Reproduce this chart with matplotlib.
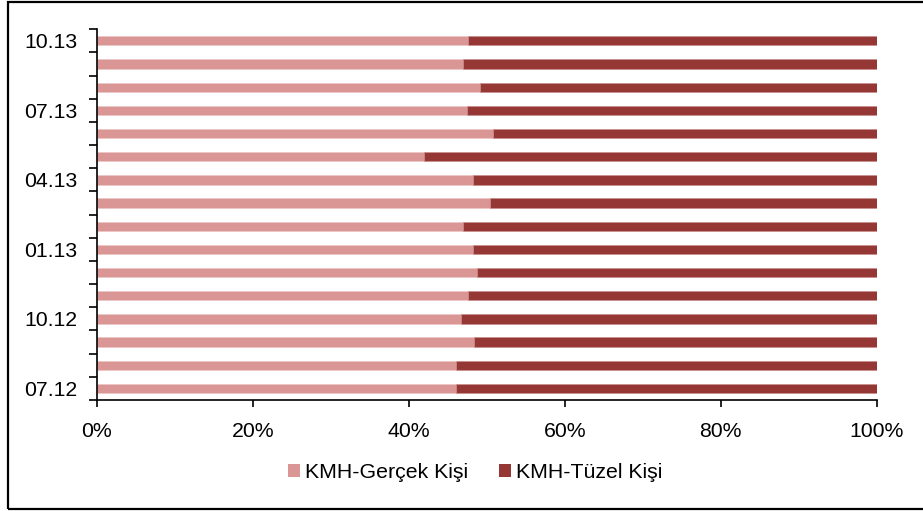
import numpy as np
import matplotlib.pyplot as plt
from matplotlib.patches import Rectangle, Patch

plt.rcParams['font.family'] = ['Liberation Sans', 'DejaVu Sans']

# monthly shares (%), 07.12 -> 10.13
months = ['07.12', '08.12', '09.12', '10.12', '11.12', '12.12', '01.13', '02.13',
          '03.13', '04.13', '05.13', '06.13', '07.13', '08.13', '09.13', '10.13']
gercek = [46.0, 46.0, 48.4, 46.7, 47.6, 48.7, 48.2, 47.0,
          50.4, 48.2, 42.0, 50.8, 47.5, 49.2, 46.9, 47.6]
tuzel = [100 - v for v in gercek]
labelled = ['07.12', '10.12', '01.13', '04.13', '07.13', '10.13']

c_gercek = '#D99694'
c_tuzel = '#953735'
fs = 15.3

fig = plt.figure(figsize=(9.23, 5.11), dpi=100)
ax = fig.add_axes([0.1048, 0.2172, 0.845, 0.7255])

y = np.arange(len(months))
ax.barh(y, gercek, height=0.4, color=c_gercek, edgecolor='#EBC5C4', linewidth=0.4)
ax.barh(y, tuzel, left=gercek, height=0.4, color=c_tuzel, edgecolor='#C98A88', linewidth=0.4)

ax.set_xlim(0, 100)
ax.set_ylim(-0.5, len(months) - 0.5)

ax.set_xticks(np.arange(0, 101, 20))
ax.set_xticklabels([f'{v}%' for v in range(0, 101, 20)])
ax.tick_params(axis='x', direction='out', length=5, width=1.2, pad=11, labelsize=fs)

# boundary ticks on the category axis, labels on every third month
ax.set_yticks(np.arange(-0.5, len(months), 1.0))
ax.set_yticklabels([])
ax.tick_params(axis='y', which='major', direction='out', length=6, width=1.2)
ax.set_yticks([months.index(m) for m in labelled], minor=True)
ax.set_yticklabels(labelled, minor=True)
ax.tick_params(axis='y', which='minor', length=0, pad=14, labelsize=fs)

for s in ['top', 'right']:
    ax.spines[s].set_visible(False)
for s in ['left', 'bottom']:
    ax.spines[s].set_linewidth(1.2)
    ax.spines[s].set_color('black')

handles = [Patch(facecolor=c_gercek, label='KMH-Gerçek Kişi'),
           Patch(facecolor=c_tuzel, label='KMH-Tüzel Kişi')]
fig.legend(handles=handles, loc='center', bbox_to_anchor=(0.515, 0.076), ncol=2,
           frameon=False, fontsize=fs, handlelength=0.55, handleheight=0.55,
           handletextpad=0.25, columnspacing=1.45)

# outer frame
fig.add_artist(Rectangle((0.0087, 0.003), 1.2, 0.994, transform=fig.transFigure,
                         fill=False, edgecolor='black', linewidth=1.6))

fig.savefig('out.png', dpi=100)
